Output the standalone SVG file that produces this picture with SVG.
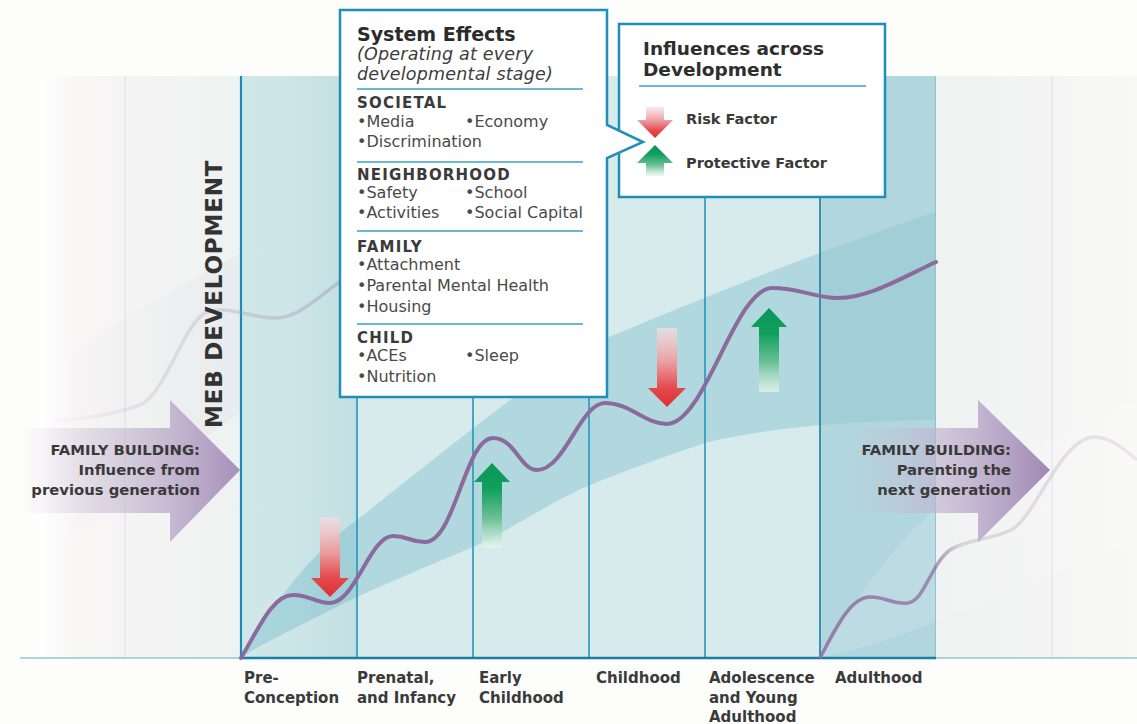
<svg xmlns="http://www.w3.org/2000/svg" width="1137" height="724" viewBox="0 0 1137 724">
<defs>
<style>
text{font-family:"DejaVu Sans","Liberation Sans",sans-serif}
.b{font-weight:bold;fill:#3a3a3a}
.lbl{font-size:15px}
.fb{font-size:14.8px;text-anchor:end}
.hd{font-size:15px;letter-spacing:1.2px}
.it{font-size:17.5px;font-style:italic;fill:#3d3d3d;letter-spacing:0.2px}
.bl{font-size:16px;fill:#4a4a4a}
.box{fill:#fff;stroke:#1f8fb7;stroke-width:2.5}
.sep{stroke:#3aa2c2;stroke-width:1.5}
.col{stroke:#2396bd;stroke-width:1.6}
.curve{fill:none;stroke:#8b6b9d;stroke-width:4;stroke-linecap:round}
</style>
<linearGradient id="fadeL" x1="0" y1="0" x2="1" y2="0">
<stop offset="0" stop-color="#ffffff"/><stop offset="0.2" stop-color="#f8f5f5"/><stop offset="1" stop-color="#eff2f2"/>
</linearGradient>
<linearGradient id="fadeR" x1="0" y1="0" x2="1" y2="0">
<stop offset="0" stop-color="#eef2f1"/><stop offset="0.5" stop-color="#f3f4f3"/><stop offset="1" stop-color="#f8f8f7"/>
</linearGradient>
<linearGradient id="prevBand" gradientUnits="userSpaceOnUse" x1="40" y1="0" x2="340" y2="0">
<stop offset="0" stop-color="#8aa8b0" stop-opacity="0"/><stop offset="0.6" stop-color="#8aa8b0" stop-opacity="0.07"/><stop offset="1" stop-color="#8aa8b0" stop-opacity="0.08"/>
</linearGradient>
<linearGradient id="pre" x1="0" y1="0" x2="1" y2="0">
<stop offset="0" stop-color="#d0e7e9"/><stop offset="0.4" stop-color="#cde6e8"/><stop offset="1" stop-color="#c2dfe3"/>
</linearGradient>
<linearGradient id="red" x1="0" y1="0" x2="0" y2="1">
<stop offset="0" stop-color="#f6dfe2" stop-opacity="0.7"/><stop offset="0.45" stop-color="#eb9a9d"/><stop offset="0.76" stop-color="#e4494c"/><stop offset="1" stop-color="#dd3034"/>
</linearGradient>
<linearGradient id="green" x1="0" y1="0" x2="0" y2="1">
<stop offset="0" stop-color="#0a9656"/><stop offset="0.3" stop-color="#10a05e"/><stop offset="0.65" stop-color="#6cc095"/><stop offset="1" stop-color="#eaf5ef" stop-opacity="0.7"/>
</linearGradient>
<linearGradient id="famL" gradientUnits="userSpaceOnUse" x1="20" y1="0" x2="240" y2="0">
<stop offset="0" stop-color="#cbbfd5" stop-opacity="0"/><stop offset="0.35" stop-color="#c9bdd4" stop-opacity="0.5"/><stop offset="0.7" stop-color="#bfb0cc" stop-opacity="0.9"/><stop offset="1" stop-color="#a690b9"/>
</linearGradient>
<linearGradient id="famR" gradientUnits="userSpaceOnUse" x1="850" y1="0" x2="1050" y2="0">
<stop offset="0" stop-color="#cbbfd5" stop-opacity="0"/><stop offset="0.35" stop-color="#c3b6d0" stop-opacity="0.55"/><stop offset="0.7" stop-color="#b8a7c8" stop-opacity="0.9"/><stop offset="1" stop-color="#9f88b3"/>
</linearGradient>
<linearGradient id="prevC" gradientUnits="userSpaceOnUse" x1="40" y1="0" x2="345" y2="0">
<stop offset="0" stop-color="#a58fb3" stop-opacity="0"/><stop offset="0.4" stop-color="#a58fb3" stop-opacity="0.22"/><stop offset="1" stop-color="#a58fb3" stop-opacity="0.42"/>
</linearGradient>
<linearGradient id="nextC" gradientUnits="userSpaceOnUse" x1="820" y1="0" x2="1137" y2="0">
<stop offset="0" stop-color="#8f73a3" stop-opacity="0.9"/><stop offset="0.36" stop-color="#8f73a3" stop-opacity="0.75"/><stop offset="0.45" stop-color="#a58fb3" stop-opacity="0.32"/><stop offset="1" stop-color="#a58fb3" stop-opacity="0.18"/>
</linearGradient>
<clipPath id="clipMain"><rect x="241" y="76" width="579" height="582"/></clipPath>
<clipPath id="clipAdult"><rect x="820" y="76" width="116" height="582"/></clipPath>
<path id="band" d="M241,656 Q300,560 357,520 C420,470 470,430 513,398 C550,370 580,350 607,338 C660,316 760,275 820,253 C870,235 910,220 936,212 L936,420 C900,420 860,422 820,425 C770,430 730,436 705,443 C670,455 640,465 590,485 C550,502 510,530 473,547 C430,565 390,582 357,597 C310,620 270,640 241,657 Z"/>
</defs>

<rect width="1137" height="724" fill="#fdfdfc"/>

<g id="background">
<rect x="40" y="76" width="201" height="582" fill="url(#fadeL)"/>
<rect x="935" y="76" width="202" height="582" fill="url(#fadeR)"/>
<path d="M40,372 L137,310 L241,253 L340,203 L340,392 L241,412 L40,560 Z" fill="url(#prevBand)"/>
<line x1="125" y1="76" x2="125" y2="658" stroke="#dde3e4" stroke-width="1.2"/>
<line x1="1052" y1="76" x2="1052" y2="658" stroke="#dde3e4" stroke-width="1.2"/>
<rect x="241" y="76" width="116" height="582" fill="url(#pre)"/>
<rect x="357" y="76" width="463" height="582" fill="#d7ebec"/>
<rect x="820" y="76" width="115" height="582" fill="#b1d6de"/>
<use href="#band" fill="#3ca0b4" opacity="0.25" clip-path="url(#clipMain)"/>
<use href="#band" fill="#3a98ae" opacity="0.13" clip-path="url(#clipAdult)"/>
<path d="M820,657 C850,610 890,545 935,510 C980,480 1020,455 1052,437 C1080,422 1110,410 1137,402 L1137,540 C1060,570 990,600 935,622 C890,640 850,652 820,658 Z" fill="#ffffff" opacity="0.14"/>
</g>

<g id="connectors">
<line x1="20" y1="658" x2="1137" y2="658" stroke="#8ec8d4" stroke-width="1.5"/>
<line x1="241" y1="76" x2="241" y2="658" stroke="#1b8db5" stroke-width="2.2"/>
<line class="col" x1="357" y1="76" x2="357" y2="658"/>
<line class="col" x1="473" y1="76" x2="473" y2="658"/>
<line class="col" x1="589" y1="76" x2="589" y2="658"/>
<line class="col" x1="705" y1="76" x2="705" y2="658"/>
<line x1="820" y1="76" x2="820" y2="658" stroke="#1a7fa2" stroke-width="1.6"/>
<line x1="935.5" y1="76" x2="935.5" y2="658" stroke="#8fc3cf" stroke-width="1"/>
<line x1="241" y1="658" x2="936" y2="658" stroke="#1a7fa5" stroke-width="2.5"/>
<path d="M40,422 C80,420 115,414 140,405 C165,395 185,320 207,312 C230,305 250,318 275,318 C300,318 320,295 345,278" fill="none" stroke="url(#prevC)" stroke-width="3.5"/>
<path class="curve" d="M241,658 C258,630 272,595 293,595 C310,595 315,603 330,603 C355,603 370,536 393,536 C408,536 410,542 425,542 C455,542 465,438 493,438 C515,438 520,470 537,470 C565,470 580,403 605,403 C630,403 645,424 667,424 C705,424 735,288 772,288 C800,288 815,298 838,298 C870,298 905,276 936,262"/>
<path d="M820,658 C835,630 850,597 870,597 C888,597 892,605 908,603 C925,600 930,565 950,550 C965,540 990,540 1011,530 C1035,518 1060,440 1093,437 C1110,436 1125,450 1137,460" fill="none" stroke="url(#nextC)" stroke-width="3.5"/>
</g>

<g id="factor-arrows">
<path d="M320,517 H340 V578 H349 L330,597 L311,578 H320 Z" fill="url(#red)"/>
<path d="M657,328 H677 V388 H686 L667,407 L648,388 H657 Z" fill="url(#red)"/>
<path d="M492,463 L510,482 H502 V548 H482 V482 H474 Z" fill="url(#green)"/>
<path d="M769,308 L787,327 H779 V392 H759 V327 H751 Z" fill="url(#green)"/>
</g>

<g id="family-prev">
<path d="M20,428 H170 V400 L240,470 L170,542 V513 H20 Z" fill="url(#famL)"/>
<text class="b fb" x="200" y="455">FAMILY BUILDING:</text>
<text class="b fb" x="200" y="475">Influence from</text>
<text class="b fb" x="200" y="495">previous generation</text>
</g>

<g id="family-next">
<path d="M850,428 H978 V400 L1050,470 L978,542 V513 H850 Z" fill="url(#famR)"/>
<text class="b fb" x="1011" y="455">FAMILY BUILDING:</text>
<text class="b fb" x="1011" y="475">Parenting the</text>
<text class="b fb" x="1011" y="495">next generation</text>
</g>

<g id="axis-title">
<text class="b" transform="translate(222,428) rotate(-90)" style="font-size:23px;letter-spacing:0.8px;fill:#333">MEB DEVELOPMENT</text>
</g>

<g id="stage-labels">
<text class="b lbl" x="244" y="683">Pre-</text>
<text class="b lbl" x="244" y="703">Conception</text>
<text class="b lbl" x="357" y="683">Prenatal,</text>
<text class="b lbl" x="357" y="703">and Infancy</text>
<text class="b lbl" x="479" y="683">Early</text>
<text class="b lbl" x="479" y="703">Childhood</text>
<text class="b lbl" x="596" y="683">Childhood</text>
<text class="b lbl" x="709" y="683">Adolescence</text>
<text class="b lbl" x="709" y="703">and Young</text>
<text class="b lbl" x="709" y="722">Adulthood</text>
<text class="b lbl" x="835" y="683">Adulthood</text>
</g>

<g id="influences-box">
<rect class="box" x="619" y="24" width="266" height="173"/>
<text class="b" x="643" y="55" style="font-size:18.5px;fill:#2e2e2e">Influences across</text>
<text class="b" x="643" y="76" style="font-size:18.5px;fill:#2e2e2e">Development</text>
<line class="sep" x1="639" y1="86" x2="866" y2="86"/>
<path d="M646,107 H664 V120 H673 L655,138 L637,120 H646 Z" fill="url(#red)"/>
<path d="M655,145 L673,163 H664 V176 H646 V163 H637 Z" fill="url(#green)"/>
<text class="b" x="686" y="124" style="font-size:14.5px">Risk Factor</text>
<text class="b" x="686" y="168" style="font-size:14.5px">Protective Factor</text>
</g>

<g id="system-effects-box">
<path class="box" d="M340,10 H607 V125 L643,142 L607,158 V397 H340 Z"/>
<text class="b" x="357" y="41" style="font-size:19px;fill:#2b2b2b">System Effects</text>
<text class="it" x="357" y="60">(Operating at every</text>
<text class="it" x="357" y="80">developmental stage)</text>
<line class="sep" x1="357" y1="89" x2="583" y2="89"/>
<text class="b hd" x="357" y="108">SOCIETAL</text>
<text class="bl" x="357" y="127">•Media</text>
<text class="bl" x="465" y="127">•Economy</text>
<text class="bl" x="357" y="147">•Discrimination</text>
<line class="sep" x1="357" y1="162" x2="583" y2="162"/>
<text class="b hd" x="357" y="180">NEIGHBORHOOD</text>
<text class="bl" x="357" y="198">•Safety</text>
<text class="bl" x="465" y="198">•School</text>
<text class="bl" x="357" y="218">•Activities</text>
<text class="bl" x="465" y="218">•Social Capital</text>
<line class="sep" x1="357" y1="231" x2="583" y2="231"/>
<text class="b hd" x="357" y="252">FAMILY</text>
<text class="bl" x="357" y="270">•Attachment</text>
<text class="bl" x="357" y="291">•Parental Mental Health</text>
<text class="bl" x="357" y="312">•Housing</text>
<line class="sep" x1="357" y1="324" x2="583" y2="324"/>
<text class="b hd" x="357" y="343">CHILD</text>
<text class="bl" x="357" y="361">•ACEs</text>
<text class="bl" x="465" y="361">•Sleep</text>
<text class="bl" x="357" y="382">•Nutrition</text>
</g>
</svg>
